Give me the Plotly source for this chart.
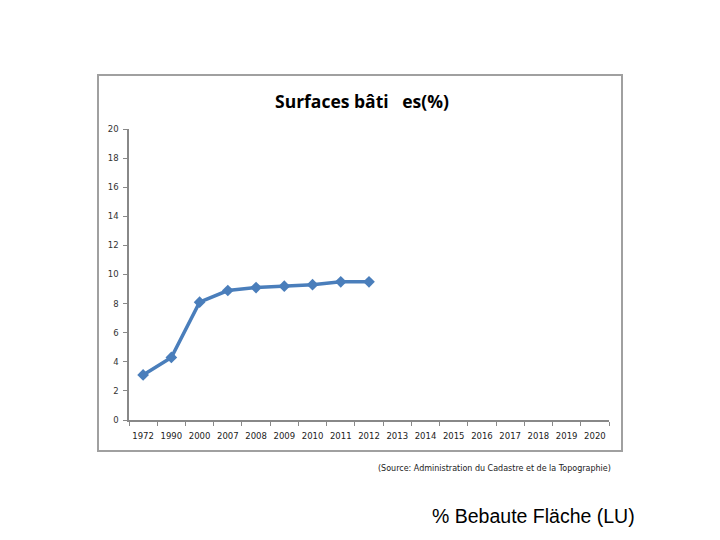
import plotly.graph_objects as go

years = ["1972", "1990", "2000", "2007", "2008", "2009", "2010", "2011", "2012",
         "2013", "2014", "2015", "2016", "2017", "2018", "2019", "2020"]
data_years = ["1972", "1990", "2000", "2007", "2008", "2009", "2010", "2011", "2012"]
values = [3.1, 4.3, 8.1, 8.9, 9.1, 9.2, 9.3, 9.5, 9.5]
y_ticks = [0, 2, 4, 6, 8, 10, 12, 14, 16, 18, 20]

OFF = 8  # page body margin
L, R, T, B = 129 - OFF, 609 - OFF, 129 - OFF, 420 - OFF
W, H = 720, 540

def px(x):
    return (x - OFF - L) / (R - L)

def py(y):
    return (B - (y - OFF)) / (B - T)

fig = go.Figure()
fig.add_trace(go.Scatter(
    x=data_years, y=values, mode="lines+markers",
    line=dict(color="#4A7EBB", width=3.5),
    marker=dict(symbol="diamond", size=9, color="#4A7EBB"),
    showlegend=False,
))

fig.update_layout(
    width=W, height=H,
    margin=dict(l=L, r=W - R, t=T, b=H - B, autoexpand=False),
    paper_bgcolor="white", plot_bgcolor="white",
    xaxis=dict(
        type="category", categoryorder="array", categoryarray=years,
        range=[-0.5, len(years) - 0.5],
        tickmode="array", tickvals=years, ticktext=years,
        tickson="boundaries", ticks="outside", ticklen=4, tickcolor="#888",
        tickangle=0, automargin=False, ticklabelstandoff=7,
        showline=True, linecolor="#888", linewidth=1.5,
        showgrid=False, zeroline=False,
        tickfont=dict(family="DejaVu Sans", size=8.5, color="#222"),
    ),
    yaxis=dict(
        range=[0, 20], tickmode="array", tickvals=y_ticks,
        ticks="outside", ticklen=4, tickcolor="#888", automargin=False,
        ticklabelstandoff=3,
        showline=True, linecolor="#888", linewidth=1.5,
        showgrid=False, zeroline=False,
        tickfont=dict(family="DejaVu Sans", size=8.5, color="#333"),
    ),
    shapes=[dict(
        type="rect", xref="paper", yref="paper",
        x0=px(98), x1=px(622), y0=py(451), y1=py(75),
        line=dict(color="#a0a0a0", width=2), fillcolor="rgba(0,0,0,0)",
        layer="below",
    )],
    annotations=[
        dict(text="<b>Surfaces bâti   es(%)</b>", xref="paper", yref="paper",
             x=px(362), y=py(101), showarrow=False, xanchor="center", yanchor="middle",
             font=dict(family="Open Sans", size=17.5, color="black")),
        dict(text="(Source: Administration du Cadastre et de la Topographie)",
             xref="paper", yref="paper", x=px(494), y=py(468), showarrow=False,
             xanchor="center", yanchor="middle",
             font=dict(family="DejaVu Sans", size=8, color="#222")),
        dict(text="% Bebaute Fläche (LU)", xref="paper", yref="paper",
             x=px(533), y=py(516), showarrow=False, xanchor="center", yanchor="middle",
             font=dict(family="Liberation Sans", size=19.5, color="black")),
    ],
)

fig.write_html("out.html")
